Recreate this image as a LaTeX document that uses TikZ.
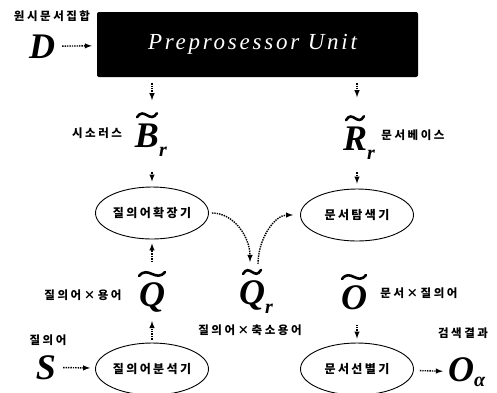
\documentclass[tikz,border=0pt]{standalone}
\usepackage{amsmath}
\usepackage{fontspec}
\setmainfont{Liberation Serif}
\newfontfamily\kor{Noto Sans CJK KR}
\usetikzlibrary{positioning,shapes}

\newcommand{\bigsym}[1]{\fontsize{36}{36}\selectfont\textbf{\textit{#1}}}
\newcommand{\subsym}[2][-9pt]{\rlap{\raisebox{#1}{\fontsize{20}{20}\selectfont\textbf{\textit{#2}}}}}
\newcommand{\tildeon}[2]{\draw[tildeline] ([xshift=-#2/2, yshift=5pt]#1.north) .. controls +(0.35*#2,-11) and +(-0.35*#2,11) .. +(#2,-4);}

\begin{document}
\begin{tikzpicture}[x=1pt,y=-1pt,
    flow/.style={-latex, densely dotted, line width=1.4pt, shorten <=6pt, shorten >=5pt},
    proc/.style={ellipse, draw, line width=0.9pt, minimum width=113pt, minimum height=52pt, inner sep=0pt,
                 font=\kor\bfseries\fontsize{12}{12}\selectfont\addfontfeature{LetterSpace=20}},
    lbl/.style={font=\kor\bfseries\fontsize{11.5}{11.5}\selectfont\addfontfeature{LetterSpace=22}, inner sep=1pt},
    sym/.style={inner sep=1pt, anchor=base},
    tildeline/.style={line width=2.6pt, line cap=round}]

\useasboundingbox (0,0) rectangle (497,392);

% preprocessor
\node[fill=black, rounded corners=2pt, minimum width=321pt, minimum height=65pt, text=white,
      font=\fontsize{23}{23}\selectfont\itshape\addfontfeature{LetterSpace=12}] (prep) at (257.5,44.5) {Preprosessor Unit\hspace*{10pt}};

% inputs and outputs
\node[sym] (D) at (42,58) {\bigsym{D}};
\node[lbl] (Dl) at (52,16) {원시문서집합};
\node[sym] (Br) at (147,147) {\bigsym{B}\subsym{r}};
\node[lbl] (Brl) at (97,133) {시소러스};
\node[sym] (Rr) at (355,150) {\bigsym{R}\subsym{r}};
\node[lbl] (Rrl) at (413,135) {문서베이스};
\tildeon{Br}{20}
\tildeon{Rr}{18}

% processes
\node[proc] (expand) at (152,213) {질의어확장기};
\node[proc] (search) at (357,215) {문서탐색기};
\node[proc] (analyze) at (152,369) {질의어분석기};
\node[proc] (select) at (357,369) {문서선별기};

\node[sym] (Qt) at (152,306) {\bigsym{Q}};
\node[lbl] (Qtl) at (83,295) {질의어×용어};
\node[sym] (Qr) at (252,304) {\bigsym{Q}\subsym{r}};
\node[lbl] (Qrl) at (250,330) {질의어×축소용어};
\node[sym] (Ot) at (354,309) {\bigsym{O}};
\node[lbl] (Otl) at (419,293) {문서×질의어};
\tildeon{Qt}{26}
\tildeon{Qr}{18}
\tildeon{Ot}{24}

\node[sym] (S) at (46,379) {\bigsym{S}};
\node[lbl] (Sl) at (48,340) {질의어};
\node[sym] (Oa) at (461,381) {\bigsym{O}\subsym[-5pt]{α}};
\node[lbl] (Oal) at (463,333) {검색결과};

% connectors
\draw[flow] (D) -- (prep);
\draw[flow, shorten >=22pt] (prep.south -| expand) -- (Br.north -| expand);
\draw[flow, shorten >=28pt] (prep.south -| search) -- (Rr.north -| search);
\draw[flow, shorten <=15pt] (Br.south -| expand) -- (expand);
\draw[flow, shorten <=12pt] (Rr.south -| search) -- (search);
\draw[flow, shorten <=19pt, shorten >=4pt] (Qt) -- (expand);
\draw[flow, shorten <=3pt, shorten >=8pt] (analyze) -- (Qt);
\draw[flow, shorten <=14pt, shorten >=4pt] (Ot.south -| select) -- (select);
\draw[flow] (S) -- (analyze);
\draw[flow, shorten >=4pt] (select) -- (Oa);
\draw[flow, shorten <=3pt, shorten >=0pt] (expand.east) to[out=0, in=90] ([xshift=-2pt, yshift=17pt]Qr.north);
\draw[flow, shorten <=0pt, shorten >=7pt] ([xshift=6pt, yshift=15pt]Qr.north) to[out=90, in=180] (search.west);

\end{tikzpicture}
\end{document}
